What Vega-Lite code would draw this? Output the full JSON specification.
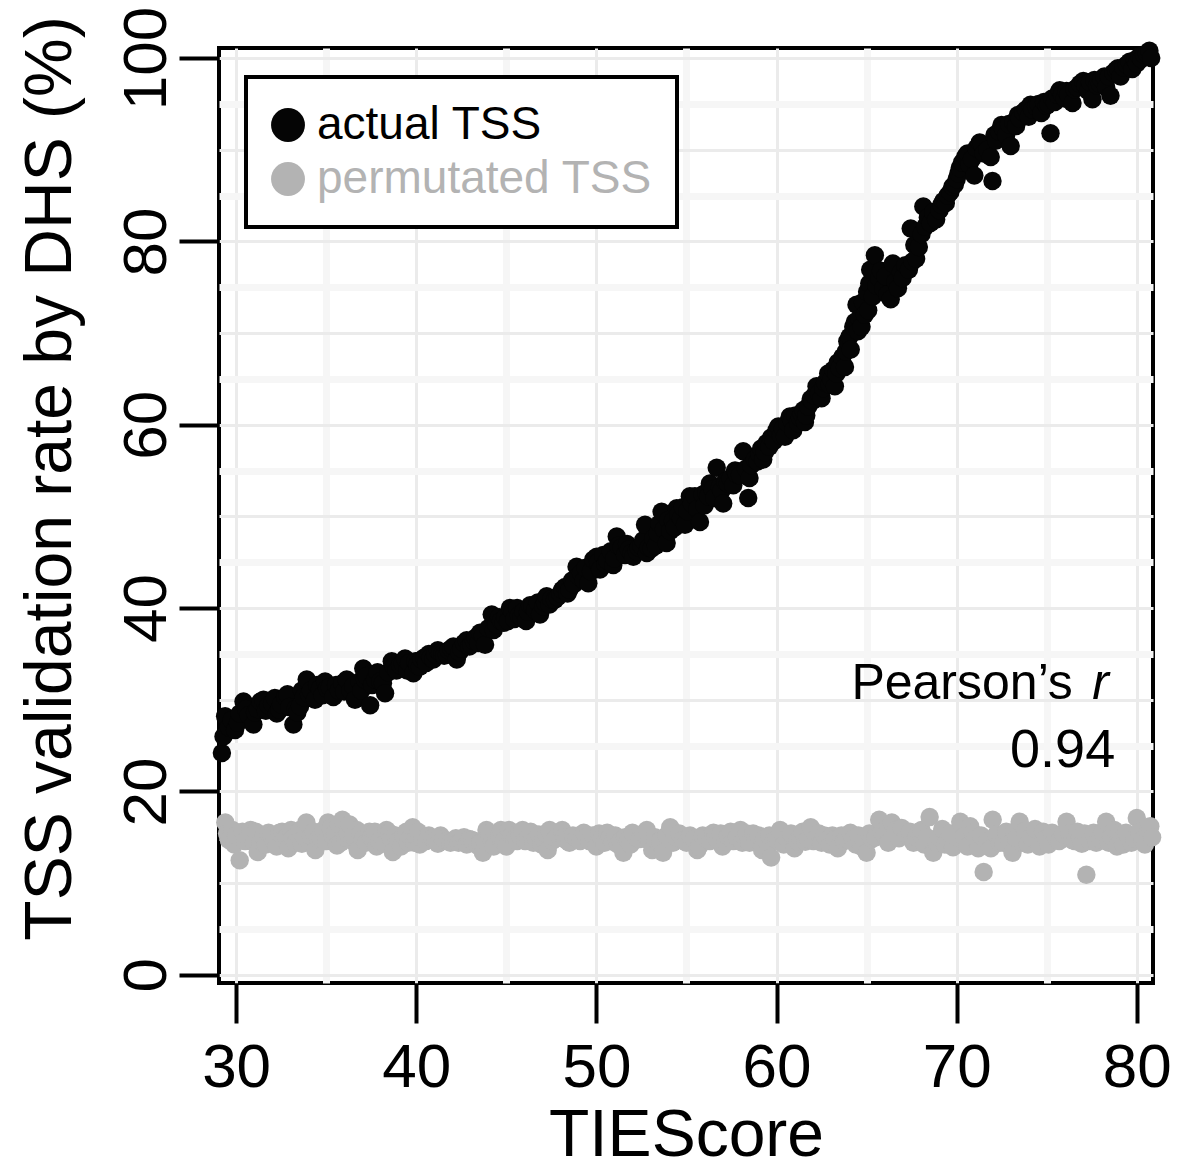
{
  "$schema": "https://vega.github.io/schema/vega-lite/v6.json",
  "width": 934,
  "height": 935,
  "autosize": {"type": "none"},
  "padding": {"left": 219, "top": 48, "right": 34, "bottom": 186},
  "background": "white",
  "config": {"font": "Liberation Sans", "view": {"stroke": "#000000", "strokeWidth": 4}},
  "datasets": {
    "pts": [
      {"TIEScore": 29.21, "rate": 24.2, "series": "actual TSS"},
      {"TIEScore": 29.3, "rate": 26.0, "series": "actual TSS"},
      {"TIEScore": 29.39, "rate": 28.2, "series": "actual TSS"},
      {"TIEScore": 29.6, "rate": 27.0, "series": "actual TSS"},
      {"TIEScore": 29.75, "rate": 27.8, "series": "actual TSS"},
      {"TIEScore": 29.94, "rate": 26.7, "series": "actual TSS"},
      {"TIEScore": 30.1, "rate": 27.5, "series": "actual TSS"},
      {"TIEScore": 30.2, "rate": 28.5, "series": "actual TSS"},
      {"TIEScore": 30.41, "rate": 29.8, "series": "actual TSS"},
      {"TIEScore": 30.55, "rate": 29.0, "series": "actual TSS"},
      {"TIEScore": 30.7, "rate": 28.3, "series": "actual TSS"},
      {"TIEScore": 30.96, "rate": 27.3, "series": "actual TSS"},
      {"TIEScore": 31.05, "rate": 28.6, "series": "actual TSS"},
      {"TIEScore": 31.2, "rate": 29.0, "series": "actual TSS"},
      {"TIEScore": 31.35, "rate": 29.8, "series": "actual TSS"},
      {"TIEScore": 31.52, "rate": 30.0, "series": "actual TSS"},
      {"TIEScore": 31.65, "rate": 28.8, "series": "actual TSS"},
      {"TIEScore": 31.8, "rate": 29.4, "series": "actual TSS"},
      {"TIEScore": 32.0, "rate": 29.6, "series": "actual TSS"},
      {"TIEScore": 32.15, "rate": 30.2, "series": "actual TSS"},
      {"TIEScore": 32.26, "rate": 28.5, "series": "actual TSS"},
      {"TIEScore": 32.4, "rate": 28.9, "series": "actual TSS"},
      {"TIEScore": 32.5, "rate": 29.5, "series": "actual TSS"},
      {"TIEScore": 32.72, "rate": 30.3, "series": "actual TSS"},
      {"TIEScore": 32.85, "rate": 30.6, "series": "actual TSS"},
      {"TIEScore": 32.95, "rate": 29.2, "series": "actual TSS"},
      {"TIEScore": 33.18, "rate": 27.3, "series": "actual TSS"},
      {"TIEScore": 33.3, "rate": 29.0, "series": "actual TSS"},
      {"TIEScore": 33.4, "rate": 28.6, "series": "actual TSS"},
      {"TIEScore": 33.55, "rate": 29.3, "series": "actual TSS"},
      {"TIEScore": 33.65, "rate": 31.0, "series": "actual TSS"},
      {"TIEScore": 33.75, "rate": 30.3, "series": "actual TSS"},
      {"TIEScore": 33.92, "rate": 32.2, "series": "actual TSS"},
      {"TIEScore": 34.05, "rate": 30.6, "series": "actual TSS"},
      {"TIEScore": 34.15, "rate": 31.0, "series": "actual TSS"},
      {"TIEScore": 34.38, "rate": 30.0, "series": "actual TSS"},
      {"TIEScore": 34.5, "rate": 31.6, "series": "actual TSS"},
      {"TIEScore": 34.65, "rate": 31.2, "series": "actual TSS"},
      {"TIEScore": 34.8, "rate": 30.5, "series": "actual TSS"},
      {"TIEScore": 34.94, "rate": 32.0, "series": "actual TSS"},
      {"TIEScore": 35.05, "rate": 31.2, "series": "actual TSS"},
      {"TIEScore": 35.2, "rate": 31.4, "series": "actual TSS"},
      {"TIEScore": 35.4, "rate": 30.3, "series": "actual TSS"},
      {"TIEScore": 35.55, "rate": 31.6, "series": "actual TSS"},
      {"TIEScore": 35.7, "rate": 31.0, "series": "actual TSS"},
      {"TIEScore": 35.9, "rate": 31.8, "series": "actual TSS"},
      {"TIEScore": 36.0, "rate": 30.9, "series": "actual TSS"},
      {"TIEScore": 36.14, "rate": 32.2, "series": "actual TSS"},
      {"TIEScore": 36.35, "rate": 31.0, "series": "actual TSS"},
      {"TIEScore": 36.5, "rate": 31.5, "series": "actual TSS"},
      {"TIEScore": 36.6, "rate": 30.0, "series": "actual TSS"},
      {"TIEScore": 36.85, "rate": 32.0, "series": "actual TSS"},
      {"TIEScore": 36.95, "rate": 31.0, "series": "actual TSS"},
      {"TIEScore": 37.06, "rate": 33.4, "series": "actual TSS"},
      {"TIEScore": 37.15, "rate": 32.2, "series": "actual TSS"},
      {"TIEScore": 37.25, "rate": 32.6, "series": "actual TSS"},
      {"TIEScore": 37.44, "rate": 29.4, "series": "actual TSS"},
      {"TIEScore": 37.55, "rate": 31.6, "series": "actual TSS"},
      {"TIEScore": 37.71, "rate": 32.2, "series": "actual TSS"},
      {"TIEScore": 37.85, "rate": 33.0, "series": "actual TSS"},
      {"TIEScore": 38.0, "rate": 32.0, "series": "actual TSS"},
      {"TIEScore": 38.15, "rate": 31.8, "series": "actual TSS"},
      {"TIEScore": 38.27, "rate": 30.7, "series": "actual TSS"},
      {"TIEScore": 38.45, "rate": 33.0, "series": "actual TSS"},
      {"TIEScore": 38.64, "rate": 34.2, "series": "actual TSS"},
      {"TIEScore": 38.75, "rate": 33.6, "series": "actual TSS"},
      {"TIEScore": 38.9, "rate": 33.2, "series": "actual TSS"},
      {"TIEScore": 39.1, "rate": 33.8, "series": "actual TSS"},
      {"TIEScore": 39.25, "rate": 34.0, "series": "actual TSS"},
      {"TIEScore": 39.38, "rate": 34.5, "series": "actual TSS"},
      {"TIEScore": 39.5, "rate": 33.2, "series": "actual TSS"},
      {"TIEScore": 39.6, "rate": 34.0, "series": "actual TSS"},
      {"TIEScore": 39.84, "rate": 32.9, "series": "actual TSS"},
      {"TIEScore": 39.95, "rate": 34.2, "series": "actual TSS"},
      {"TIEScore": 40.05, "rate": 33.8, "series": "actual TSS"},
      {"TIEScore": 40.2, "rate": 33.6, "series": "actual TSS"},
      {"TIEScore": 40.3, "rate": 34.4, "series": "actual TSS"},
      {"TIEScore": 40.45, "rate": 34.6, "series": "actual TSS"},
      {"TIEScore": 40.55, "rate": 34.0, "series": "actual TSS"},
      {"TIEScore": 40.7, "rate": 35.0, "series": "actual TSS"},
      {"TIEScore": 40.8, "rate": 34.6, "series": "actual TSS"},
      {"TIEScore": 40.95, "rate": 34.4, "series": "actual TSS"},
      {"TIEScore": 41.05, "rate": 35.0, "series": "actual TSS"},
      {"TIEScore": 41.2, "rate": 35.4, "series": "actual TSS"},
      {"TIEScore": 41.32, "rate": 35.1, "series": "actual TSS"},
      {"TIEScore": 41.45, "rate": 35.0, "series": "actual TSS"},
      {"TIEScore": 41.55, "rate": 34.8, "series": "actual TSS"},
      {"TIEScore": 41.7, "rate": 34.9, "series": "actual TSS"},
      {"TIEScore": 41.8, "rate": 35.4, "series": "actual TSS"},
      {"TIEScore": 41.95, "rate": 35.6, "series": "actual TSS"},
      {"TIEScore": 42.06, "rate": 35.8, "series": "actual TSS"},
      {"TIEScore": 42.25, "rate": 34.4, "series": "actual TSS"},
      {"TIEScore": 42.4, "rate": 35.2, "series": "actual TSS"},
      {"TIEScore": 42.5, "rate": 35.6, "series": "actual TSS"},
      {"TIEScore": 42.65, "rate": 36.2, "series": "actual TSS"},
      {"TIEScore": 42.8, "rate": 36.5, "series": "actual TSS"},
      {"TIEScore": 42.95, "rate": 35.8, "series": "actual TSS"},
      {"TIEScore": 43.05, "rate": 36.0, "series": "actual TSS"},
      {"TIEScore": 43.2, "rate": 36.4, "series": "actual TSS"},
      {"TIEScore": 43.3, "rate": 36.8, "series": "actual TSS"},
      {"TIEScore": 43.45, "rate": 36.2, "series": "actual TSS"},
      {"TIEScore": 43.54, "rate": 37.3, "series": "actual TSS"},
      {"TIEScore": 43.7, "rate": 37.0, "series": "actual TSS"},
      {"TIEScore": 43.82, "rate": 36.0, "series": "actual TSS"},
      {"TIEScore": 44.0, "rate": 37.8, "series": "actual TSS"},
      {"TIEScore": 44.19, "rate": 39.3, "series": "actual TSS"},
      {"TIEScore": 44.3, "rate": 37.6, "series": "actual TSS"},
      {"TIEScore": 44.45, "rate": 38.2, "series": "actual TSS"},
      {"TIEScore": 44.6, "rate": 39.0, "series": "actual TSS"},
      {"TIEScore": 44.7, "rate": 38.6, "series": "actual TSS"},
      {"TIEScore": 44.85, "rate": 38.4, "series": "actual TSS"},
      {"TIEScore": 44.95, "rate": 39.0, "series": "actual TSS"},
      {"TIEScore": 45.1, "rate": 38.6, "series": "actual TSS"},
      {"TIEScore": 45.2, "rate": 40.0, "series": "actual TSS"},
      {"TIEScore": 45.35, "rate": 39.6, "series": "actual TSS"},
      {"TIEScore": 45.45, "rate": 38.8, "series": "actual TSS"},
      {"TIEScore": 45.6, "rate": 40.0, "series": "actual TSS"},
      {"TIEScore": 45.7, "rate": 39.2, "series": "actual TSS"},
      {"TIEScore": 45.85, "rate": 39.0, "series": "actual TSS"},
      {"TIEScore": 45.95, "rate": 39.6, "series": "actual TSS"},
      {"TIEScore": 46.1, "rate": 38.6, "series": "actual TSS"},
      {"TIEScore": 46.2, "rate": 39.6, "series": "actual TSS"},
      {"TIEScore": 46.32, "rate": 40.3, "series": "actual TSS"},
      {"TIEScore": 46.45, "rate": 40.2, "series": "actual TSS"},
      {"TIEScore": 46.6, "rate": 39.8, "series": "actual TSS"},
      {"TIEScore": 46.75, "rate": 40.6, "series": "actual TSS"},
      {"TIEScore": 46.87, "rate": 39.3, "series": "actual TSS"},
      {"TIEScore": 47.05, "rate": 40.2, "series": "actual TSS"},
      {"TIEScore": 47.15, "rate": 40.6, "series": "actual TSS"},
      {"TIEScore": 47.24, "rate": 41.3, "series": "actual TSS"},
      {"TIEScore": 47.4, "rate": 40.4, "series": "actual TSS"},
      {"TIEScore": 47.5, "rate": 41.0, "series": "actual TSS"},
      {"TIEScore": 47.7, "rate": 40.9, "series": "actual TSS"},
      {"TIEScore": 47.85, "rate": 41.2, "series": "actual TSS"},
      {"TIEScore": 48.0, "rate": 41.6, "series": "actual TSS"},
      {"TIEScore": 48.1, "rate": 42.0, "series": "actual TSS"},
      {"TIEScore": 48.26, "rate": 42.3, "series": "actual TSS"},
      {"TIEScore": 48.4, "rate": 41.6, "series": "actual TSS"},
      {"TIEScore": 48.5, "rate": 42.0, "series": "actual TSS"},
      {"TIEScore": 48.65, "rate": 43.0, "series": "actual TSS"},
      {"TIEScore": 48.75, "rate": 42.6, "series": "actual TSS"},
      {"TIEScore": 48.9, "rate": 44.5, "series": "actual TSS"},
      {"TIEScore": 49.0, "rate": 43.5, "series": "actual TSS"},
      {"TIEScore": 49.15, "rate": 43.8, "series": "actual TSS"},
      {"TIEScore": 49.3, "rate": 43.0, "series": "actual TSS"},
      {"TIEScore": 49.4, "rate": 44.4, "series": "actual TSS"},
      {"TIEScore": 49.55, "rate": 42.7, "series": "actual TSS"},
      {"TIEScore": 49.7, "rate": 44.0, "series": "actual TSS"},
      {"TIEScore": 49.83, "rate": 45.3, "series": "actual TSS"},
      {"TIEScore": 50.02, "rate": 45.6, "series": "actual TSS"},
      {"TIEScore": 50.1, "rate": 45.0, "series": "actual TSS"},
      {"TIEScore": 50.2, "rate": 44.2, "series": "actual TSS"},
      {"TIEScore": 50.38, "rate": 45.8, "series": "actual TSS"},
      {"TIEScore": 50.5, "rate": 44.8, "series": "actual TSS"},
      {"TIEScore": 50.6, "rate": 45.2, "series": "actual TSS"},
      {"TIEScore": 50.8, "rate": 46.2, "series": "actual TSS"},
      {"TIEScore": 50.94, "rate": 44.7, "series": "actual TSS"},
      {"TIEScore": 51.0, "rate": 45.4, "series": "actual TSS"},
      {"TIEScore": 51.13, "rate": 47.8, "series": "actual TSS"},
      {"TIEScore": 51.22, "rate": 46.8, "series": "actual TSS"},
      {"TIEScore": 51.4, "rate": 46.6, "series": "actual TSS"},
      {"TIEScore": 51.59, "rate": 45.8, "series": "actual TSS"},
      {"TIEScore": 51.7, "rate": 47.0, "series": "actual TSS"},
      {"TIEScore": 51.8, "rate": 46.4, "series": "actual TSS"},
      {"TIEScore": 51.95, "rate": 46.0, "series": "actual TSS"},
      {"TIEScore": 52.05, "rate": 45.6, "series": "actual TSS"},
      {"TIEScore": 52.24, "rate": 46.2, "series": "actual TSS"},
      {"TIEScore": 52.35, "rate": 46.6, "series": "actual TSS"},
      {"TIEScore": 52.5, "rate": 46.8, "series": "actual TSS"},
      {"TIEScore": 52.6, "rate": 47.4, "series": "actual TSS"},
      {"TIEScore": 52.7, "rate": 49.1, "series": "actual TSS"},
      {"TIEScore": 52.8, "rate": 46.0, "series": "actual TSS"},
      {"TIEScore": 52.9, "rate": 46.6, "series": "actual TSS"},
      {"TIEScore": 53.07, "rate": 46.5, "series": "actual TSS"},
      {"TIEScore": 53.16, "rate": 47.6, "series": "actual TSS"},
      {"TIEScore": 53.3, "rate": 46.8, "series": "actual TSS"},
      {"TIEScore": 53.4, "rate": 48.2, "series": "actual TSS"},
      {"TIEScore": 53.5, "rate": 49.2, "series": "actual TSS"},
      {"TIEScore": 53.62, "rate": 50.5, "series": "actual TSS"},
      {"TIEScore": 53.75, "rate": 48.6, "series": "actual TSS"},
      {"TIEScore": 53.9, "rate": 47.1, "series": "actual TSS"},
      {"TIEScore": 54.0, "rate": 49.6, "series": "actual TSS"},
      {"TIEScore": 54.1, "rate": 48.4, "series": "actual TSS"},
      {"TIEScore": 54.25, "rate": 49.5, "series": "actual TSS"},
      {"TIEScore": 54.35, "rate": 48.8, "series": "actual TSS"},
      {"TIEScore": 54.46, "rate": 50.9, "series": "actual TSS"},
      {"TIEScore": 54.55, "rate": 50.2, "series": "actual TSS"},
      {"TIEScore": 54.7, "rate": 49.8, "series": "actual TSS"},
      {"TIEScore": 54.8, "rate": 51.0, "series": "actual TSS"},
      {"TIEScore": 54.92, "rate": 49.1, "series": "actual TSS"},
      {"TIEScore": 55.05, "rate": 50.6, "series": "actual TSS"},
      {"TIEScore": 55.19, "rate": 52.2, "series": "actual TSS"},
      {"TIEScore": 55.3, "rate": 51.4, "series": "actual TSS"},
      {"TIEScore": 55.47, "rate": 52.2, "series": "actual TSS"},
      {"TIEScore": 55.6, "rate": 50.8, "series": "actual TSS"},
      {"TIEScore": 55.75, "rate": 49.4, "series": "actual TSS"},
      {"TIEScore": 55.9, "rate": 52.4, "series": "actual TSS"},
      {"TIEScore": 56.0, "rate": 51.2, "series": "actual TSS"},
      {"TIEScore": 56.1, "rate": 52.6, "series": "actual TSS"},
      {"TIEScore": 56.21, "rate": 52.2, "series": "actual TSS"},
      {"TIEScore": 56.3, "rate": 53.6, "series": "actual TSS"},
      {"TIEScore": 56.45, "rate": 53.0, "series": "actual TSS"},
      {"TIEScore": 56.55, "rate": 52.0, "series": "actual TSS"},
      {"TIEScore": 56.68, "rate": 55.3, "series": "actual TSS"},
      {"TIEScore": 56.85, "rate": 53.2, "series": "actual TSS"},
      {"TIEScore": 56.95, "rate": 52.8, "series": "actual TSS"},
      {"TIEScore": 57.04, "rate": 51.4, "series": "actual TSS"},
      {"TIEScore": 57.15, "rate": 53.8, "series": "actual TSS"},
      {"TIEScore": 57.3, "rate": 53.6, "series": "actual TSS"},
      {"TIEScore": 57.45, "rate": 54.2, "series": "actual TSS"},
      {"TIEScore": 57.6, "rate": 53.4, "series": "actual TSS"},
      {"TIEScore": 57.7, "rate": 55.0, "series": "actual TSS"},
      {"TIEScore": 57.8, "rate": 54.6, "series": "actual TSS"},
      {"TIEScore": 57.97, "rate": 54.5, "series": "actual TSS"},
      {"TIEScore": 58.15, "rate": 57.1, "series": "actual TSS"},
      {"TIEScore": 58.3, "rate": 55.2, "series": "actual TSS"},
      {"TIEScore": 58.43, "rate": 52.0, "series": "actual TSS"},
      {"TIEScore": 58.5, "rate": 54.2, "series": "actual TSS"},
      {"TIEScore": 58.6, "rate": 55.6, "series": "actual TSS"},
      {"TIEScore": 58.8, "rate": 56.2, "series": "actual TSS"},
      {"TIEScore": 58.95, "rate": 56.0, "series": "actual TSS"},
      {"TIEScore": 59.05, "rate": 56.8, "series": "actual TSS"},
      {"TIEScore": 59.15, "rate": 57.4, "series": "actual TSS"},
      {"TIEScore": 59.26, "rate": 56.2, "series": "actual TSS"},
      {"TIEScore": 59.35, "rate": 57.0, "series": "actual TSS"},
      {"TIEScore": 59.45, "rate": 58.0, "series": "actual TSS"},
      {"TIEScore": 59.6, "rate": 57.6, "series": "actual TSS"},
      {"TIEScore": 59.7, "rate": 58.6, "series": "actual TSS"},
      {"TIEScore": 59.85, "rate": 58.2, "series": "actual TSS"},
      {"TIEScore": 60.0, "rate": 59.4, "series": "actual TSS"},
      {"TIEScore": 60.1, "rate": 59.8, "series": "actual TSS"},
      {"TIEScore": 60.25, "rate": 58.8, "series": "actual TSS"},
      {"TIEScore": 60.35, "rate": 59.6, "series": "actual TSS"},
      {"TIEScore": 60.47, "rate": 58.7, "series": "actual TSS"},
      {"TIEScore": 60.6, "rate": 60.2, "series": "actual TSS"},
      {"TIEScore": 60.74, "rate": 60.9, "series": "actual TSS"},
      {"TIEScore": 60.85, "rate": 60.4, "series": "actual TSS"},
      {"TIEScore": 60.93, "rate": 59.4, "series": "actual TSS"},
      {"TIEScore": 61.05, "rate": 61.0, "series": "actual TSS"},
      {"TIEScore": 61.2, "rate": 60.2, "series": "actual TSS"},
      {"TIEScore": 61.3, "rate": 60.8, "series": "actual TSS"},
      {"TIEScore": 61.4, "rate": 61.2, "series": "actual TSS"},
      {"TIEScore": 61.5, "rate": 61.6, "series": "actual TSS"},
      {"TIEScore": 61.58, "rate": 60.3, "series": "actual TSS"},
      {"TIEScore": 61.65, "rate": 61.0, "series": "actual TSS"},
      {"TIEScore": 61.76, "rate": 62.0, "series": "actual TSS"},
      {"TIEScore": 61.9, "rate": 62.8, "series": "actual TSS"},
      {"TIEScore": 62.0, "rate": 62.6, "series": "actual TSS"},
      {"TIEScore": 62.1, "rate": 63.2, "series": "actual TSS"},
      {"TIEScore": 62.22, "rate": 64.2, "series": "actual TSS"},
      {"TIEScore": 62.35, "rate": 63.4, "series": "actual TSS"},
      {"TIEScore": 62.5, "rate": 62.9, "series": "actual TSS"},
      {"TIEScore": 62.6, "rate": 64.0, "series": "actual TSS"},
      {"TIEScore": 62.7, "rate": 64.6, "series": "actual TSS"},
      {"TIEScore": 62.87, "rate": 65.6, "series": "actual TSS"},
      {"TIEScore": 62.95, "rate": 64.4, "series": "actual TSS"},
      {"TIEScore": 63.05, "rate": 65.0, "series": "actual TSS"},
      {"TIEScore": 63.15, "rate": 66.0, "series": "actual TSS"},
      {"TIEScore": 63.24, "rate": 64.2, "series": "actual TSS"},
      {"TIEScore": 63.33, "rate": 65.6, "series": "actual TSS"},
      {"TIEScore": 63.4, "rate": 66.8, "series": "actual TSS"},
      {"TIEScore": 63.5, "rate": 66.2, "series": "actual TSS"},
      {"TIEScore": 63.65, "rate": 67.4, "series": "actual TSS"},
      {"TIEScore": 63.8, "rate": 66.3, "series": "actual TSS"},
      {"TIEScore": 63.85, "rate": 68.0, "series": "actual TSS"},
      {"TIEScore": 63.93, "rate": 69.1, "series": "actual TSS"},
      {"TIEScore": 64.05, "rate": 69.6, "series": "actual TSS"},
      {"TIEScore": 64.12, "rate": 68.2, "series": "actual TSS"},
      {"TIEScore": 64.26, "rate": 70.7, "series": "actual TSS"},
      {"TIEScore": 64.35, "rate": 71.2, "series": "actual TSS"},
      {"TIEScore": 64.44, "rate": 73.1, "series": "actual TSS"},
      {"TIEScore": 64.52, "rate": 70.2, "series": "actual TSS"},
      {"TIEScore": 64.6, "rate": 71.6, "series": "actual TSS"},
      {"TIEScore": 64.72, "rate": 70.7, "series": "actual TSS"},
      {"TIEScore": 64.8, "rate": 73.4, "series": "actual TSS"},
      {"TIEScore": 64.9, "rate": 72.0, "series": "actual TSS"},
      {"TIEScore": 65.03, "rate": 74.5, "series": "actual TSS"},
      {"TIEScore": 65.09, "rate": 72.5, "series": "actual TSS"},
      {"TIEScore": 65.15, "rate": 75.4, "series": "actual TSS"},
      {"TIEScore": 65.2, "rate": 76.9, "series": "actual TSS"},
      {"TIEScore": 65.35, "rate": 74.0, "series": "actual TSS"},
      {"TIEScore": 65.46, "rate": 78.5, "series": "actual TSS"},
      {"TIEScore": 65.55, "rate": 75.2, "series": "actual TSS"},
      {"TIEScore": 65.7, "rate": 76.0, "series": "actual TSS"},
      {"TIEScore": 65.8, "rate": 76.8, "series": "actual TSS"},
      {"TIEScore": 65.93, "rate": 74.9, "series": "actual TSS"},
      {"TIEScore": 66.05, "rate": 76.2, "series": "actual TSS"},
      {"TIEScore": 66.15, "rate": 74.2, "series": "actual TSS"},
      {"TIEScore": 66.34, "rate": 73.7, "series": "actual TSS"},
      {"TIEScore": 66.46, "rate": 77.6, "series": "actual TSS"},
      {"TIEScore": 66.6, "rate": 75.6, "series": "actual TSS"},
      {"TIEScore": 66.74, "rate": 74.9, "series": "actual TSS"},
      {"TIEScore": 66.9, "rate": 76.6, "series": "actual TSS"},
      {"TIEScore": 67.0, "rate": 76.0, "series": "actual TSS"},
      {"TIEScore": 67.15, "rate": 77.4, "series": "actual TSS"},
      {"TIEScore": 67.35, "rate": 76.9, "series": "actual TSS"},
      {"TIEScore": 67.45, "rate": 81.4, "series": "actual TSS"},
      {"TIEScore": 67.55, "rate": 77.8, "series": "actual TSS"},
      {"TIEScore": 67.65, "rate": 79.6, "series": "actual TSS"},
      {"TIEScore": 67.75, "rate": 78.1, "series": "actual TSS"},
      {"TIEScore": 67.9, "rate": 79.4, "series": "actual TSS"},
      {"TIEScore": 68.05, "rate": 80.8, "series": "actual TSS"},
      {"TIEScore": 68.15, "rate": 83.8, "series": "actual TSS"},
      {"TIEScore": 68.25, "rate": 81.6, "series": "actual TSS"},
      {"TIEScore": 68.4, "rate": 82.6, "series": "actual TSS"},
      {"TIEScore": 68.55, "rate": 82.0, "series": "actual TSS"},
      {"TIEScore": 68.7, "rate": 83.2, "series": "actual TSS"},
      {"TIEScore": 68.86, "rate": 82.4, "series": "actual TSS"},
      {"TIEScore": 69.05, "rate": 83.4, "series": "actual TSS"},
      {"TIEScore": 69.15, "rate": 84.0, "series": "actual TSS"},
      {"TIEScore": 69.26, "rate": 84.4, "series": "actual TSS"},
      {"TIEScore": 69.4, "rate": 84.2, "series": "actual TSS"},
      {"TIEScore": 69.5, "rate": 85.0, "series": "actual TSS"},
      {"TIEScore": 69.65, "rate": 85.4, "series": "actual TSS"},
      {"TIEScore": 69.77, "rate": 86.0, "series": "actual TSS"},
      {"TIEScore": 69.9, "rate": 86.2, "series": "actual TSS"},
      {"TIEScore": 70.0, "rate": 86.8, "series": "actual TSS"},
      {"TIEScore": 70.1, "rate": 87.4, "series": "actual TSS"},
      {"TIEScore": 70.17, "rate": 88.0, "series": "actual TSS"},
      {"TIEScore": 70.3, "rate": 88.6, "series": "actual TSS"},
      {"TIEScore": 70.47, "rate": 89.2, "series": "actual TSS"},
      {"TIEScore": 70.6, "rate": 89.6, "series": "actual TSS"},
      {"TIEScore": 70.7, "rate": 88.4, "series": "actual TSS"},
      {"TIEScore": 70.85, "rate": 89.0, "series": "actual TSS"},
      {"TIEScore": 70.98, "rate": 87.2, "series": "actual TSS"},
      {"TIEScore": 71.1, "rate": 90.2, "series": "actual TSS"},
      {"TIEScore": 71.28, "rate": 90.8, "series": "actual TSS"},
      {"TIEScore": 71.4, "rate": 90.6, "series": "actual TSS"},
      {"TIEScore": 71.5, "rate": 89.6, "series": "actual TSS"},
      {"TIEScore": 71.7, "rate": 90.0, "series": "actual TSS"},
      {"TIEScore": 71.89, "rate": 89.2, "series": "actual TSS"},
      {"TIEScore": 71.99, "rate": 86.6, "series": "actual TSS"},
      {"TIEScore": 72.1, "rate": 91.6, "series": "actual TSS"},
      {"TIEScore": 72.2, "rate": 91.0, "series": "actual TSS"},
      {"TIEScore": 72.35, "rate": 92.0, "series": "actual TSS"},
      {"TIEScore": 72.49, "rate": 92.7, "series": "actual TSS"},
      {"TIEScore": 72.6, "rate": 92.2, "series": "actual TSS"},
      {"TIEScore": 72.75, "rate": 91.6, "series": "actual TSS"},
      {"TIEScore": 72.9, "rate": 92.8, "series": "actual TSS"},
      {"TIEScore": 73.0, "rate": 90.4, "series": "actual TSS"},
      {"TIEScore": 73.15, "rate": 93.0, "series": "actual TSS"},
      {"TIEScore": 73.3, "rate": 92.6, "series": "actual TSS"},
      {"TIEScore": 73.4, "rate": 93.8, "series": "actual TSS"},
      {"TIEScore": 73.5, "rate": 93.4, "series": "actual TSS"},
      {"TIEScore": 73.7, "rate": 94.1, "series": "actual TSS"},
      {"TIEScore": 73.85, "rate": 94.4, "series": "actual TSS"},
      {"TIEScore": 74.0, "rate": 93.6, "series": "actual TSS"},
      {"TIEScore": 74.1, "rate": 94.9, "series": "actual TSS"},
      {"TIEScore": 74.2, "rate": 94.4, "series": "actual TSS"},
      {"TIEScore": 74.41, "rate": 94.7, "series": "actual TSS"},
      {"TIEScore": 74.55, "rate": 95.0, "series": "actual TSS"},
      {"TIEScore": 74.7, "rate": 94.0, "series": "actual TSS"},
      {"TIEScore": 74.85, "rate": 95.2, "series": "actual TSS"},
      {"TIEScore": 75.0, "rate": 94.8, "series": "actual TSS"},
      {"TIEScore": 75.1, "rate": 95.0, "series": "actual TSS"},
      {"TIEScore": 75.21, "rate": 91.8, "series": "actual TSS"},
      {"TIEScore": 75.3, "rate": 95.6, "series": "actual TSS"},
      {"TIEScore": 75.45, "rate": 95.2, "series": "actual TSS"},
      {"TIEScore": 75.6, "rate": 96.0, "series": "actual TSS"},
      {"TIEScore": 75.72, "rate": 96.5, "series": "actual TSS"},
      {"TIEScore": 75.85, "rate": 96.0, "series": "actual TSS"},
      {"TIEScore": 76.0, "rate": 95.6, "series": "actual TSS"},
      {"TIEScore": 76.1, "rate": 96.4, "series": "actual TSS"},
      {"TIEScore": 76.2, "rate": 96.0, "series": "actual TSS"},
      {"TIEScore": 76.43, "rate": 95.1, "series": "actual TSS"},
      {"TIEScore": 76.55, "rate": 96.6, "series": "actual TSS"},
      {"TIEScore": 76.7, "rate": 96.8, "series": "actual TSS"},
      {"TIEScore": 76.85, "rate": 97.2, "series": "actual TSS"},
      {"TIEScore": 77.03, "rate": 97.5, "series": "actual TSS"},
      {"TIEScore": 77.15, "rate": 97.0, "series": "actual TSS"},
      {"TIEScore": 77.3, "rate": 96.4, "series": "actual TSS"},
      {"TIEScore": 77.4, "rate": 97.4, "series": "actual TSS"},
      {"TIEScore": 77.54, "rate": 95.5, "series": "actual TSS"},
      {"TIEScore": 77.65, "rate": 97.6, "series": "actual TSS"},
      {"TIEScore": 77.8, "rate": 97.0, "series": "actual TSS"},
      {"TIEScore": 77.95, "rate": 97.2, "series": "actual TSS"},
      {"TIEScore": 78.04, "rate": 97.7, "series": "actual TSS"},
      {"TIEScore": 78.2, "rate": 98.0, "series": "actual TSS"},
      {"TIEScore": 78.3, "rate": 96.8, "series": "actual TSS"},
      {"TIEScore": 78.45, "rate": 98.0, "series": "actual TSS"},
      {"TIEScore": 78.54, "rate": 95.9, "series": "actual TSS"},
      {"TIEScore": 78.7, "rate": 98.4, "series": "actual TSS"},
      {"TIEScore": 78.85, "rate": 98.7, "series": "actual TSS"},
      {"TIEScore": 78.95, "rate": 98.9, "series": "actual TSS"},
      {"TIEScore": 79.1, "rate": 98.0, "series": "actual TSS"},
      {"TIEScore": 79.25, "rate": 99.0, "series": "actual TSS"},
      {"TIEScore": 79.45, "rate": 99.3, "series": "actual TSS"},
      {"TIEScore": 79.6, "rate": 99.6, "series": "actual TSS"},
      {"TIEScore": 79.75, "rate": 98.8, "series": "actual TSS"},
      {"TIEScore": 79.9, "rate": 99.8, "series": "actual TSS"},
      {"TIEScore": 80.0, "rate": 99.4, "series": "actual TSS"},
      {"TIEScore": 80.15, "rate": 100.2, "series": "actual TSS"},
      {"TIEScore": 80.26, "rate": 99.9, "series": "actual TSS"},
      {"TIEScore": 80.4, "rate": 100.4, "series": "actual TSS"},
      {"TIEScore": 80.56, "rate": 100.5, "series": "actual TSS"},
      {"TIEScore": 80.7, "rate": 100.8, "series": "actual TSS"},
      {"TIEScore": 80.8, "rate": 100.0, "series": "actual TSS"},
      {"TIEScore": 29.4, "rate": 16.6, "series": "permutated TSS"},
      {"TIEScore": 29.5, "rate": 15.4, "series": "permutated TSS"},
      {"TIEScore": 29.6, "rate": 14.7, "series": "permutated TSS"},
      {"TIEScore": 29.8, "rate": 15.8, "series": "permutated TSS"},
      {"TIEScore": 29.9, "rate": 14.2, "series": "permutated TSS"},
      {"TIEScore": 30.0, "rate": 15.2, "series": "permutated TSS"},
      {"TIEScore": 30.2, "rate": 12.5, "series": "permutated TSS"},
      {"TIEScore": 30.35, "rate": 15.6, "series": "permutated TSS"},
      {"TIEScore": 30.5, "rate": 14.6, "series": "permutated TSS"},
      {"TIEScore": 30.65, "rate": 15.0, "series": "permutated TSS"},
      {"TIEScore": 30.8, "rate": 15.8, "series": "permutated TSS"},
      {"TIEScore": 31.0, "rate": 14.4, "series": "permutated TSS"},
      {"TIEScore": 31.1, "rate": 15.6, "series": "permutated TSS"},
      {"TIEScore": 31.2, "rate": 13.4, "series": "permutated TSS"},
      {"TIEScore": 31.35, "rate": 14.6, "series": "permutated TSS"},
      {"TIEScore": 31.5, "rate": 15.0, "series": "permutated TSS"},
      {"TIEScore": 31.65, "rate": 14.2, "series": "permutated TSS"},
      {"TIEScore": 31.8, "rate": 15.5, "series": "permutated TSS"},
      {"TIEScore": 31.95, "rate": 15.2, "series": "permutated TSS"},
      {"TIEScore": 32.1, "rate": 14.6, "series": "permutated TSS"},
      {"TIEScore": 32.25, "rate": 14.0, "series": "permutated TSS"},
      {"TIEScore": 32.4, "rate": 15.5, "series": "permutated TSS"},
      {"TIEScore": 32.55, "rate": 15.6, "series": "permutated TSS"},
      {"TIEScore": 32.65, "rate": 14.8, "series": "permutated TSS"},
      {"TIEScore": 32.8, "rate": 15.0, "series": "permutated TSS"},
      {"TIEScore": 32.9, "rate": 13.8, "series": "permutated TSS"},
      {"TIEScore": 33.05, "rate": 15.8, "series": "permutated TSS"},
      {"TIEScore": 33.15, "rate": 14.9, "series": "permutated TSS"},
      {"TIEScore": 33.3, "rate": 14.4, "series": "permutated TSS"},
      {"TIEScore": 33.4, "rate": 15.3, "series": "permutated TSS"},
      {"TIEScore": 33.55, "rate": 15.8, "series": "permutated TSS"},
      {"TIEScore": 33.65, "rate": 14.3, "series": "permutated TSS"},
      {"TIEScore": 33.8, "rate": 15.0, "series": "permutated TSS"},
      {"TIEScore": 33.9, "rate": 16.6, "series": "permutated TSS"},
      {"TIEScore": 34.05, "rate": 14.4, "series": "permutated TSS"},
      {"TIEScore": 34.15, "rate": 15.1, "series": "permutated TSS"},
      {"TIEScore": 34.3, "rate": 15.6, "series": "permutated TSS"},
      {"TIEScore": 34.4, "rate": 13.6, "series": "permutated TSS"},
      {"TIEScore": 34.55, "rate": 14.8, "series": "permutated TSS"},
      {"TIEScore": 34.7, "rate": 14.9, "series": "permutated TSS"},
      {"TIEScore": 34.85, "rate": 15.8, "series": "permutated TSS"},
      {"TIEScore": 35.0, "rate": 14.6, "series": "permutated TSS"},
      {"TIEScore": 35.1, "rate": 16.6, "series": "permutated TSS"},
      {"TIEScore": 35.25, "rate": 16.0, "series": "permutated TSS"},
      {"TIEScore": 35.35, "rate": 15.2, "series": "permutated TSS"},
      {"TIEScore": 35.5, "rate": 15.4, "series": "permutated TSS"},
      {"TIEScore": 35.6, "rate": 14.1, "series": "permutated TSS"},
      {"TIEScore": 35.7, "rate": 16.4, "series": "permutated TSS"},
      {"TIEScore": 35.8, "rate": 14.4, "series": "permutated TSS"},
      {"TIEScore": 35.9, "rate": 16.9, "series": "permutated TSS"},
      {"TIEScore": 36.05, "rate": 15.0, "series": "permutated TSS"},
      {"TIEScore": 36.2, "rate": 15.4, "series": "permutated TSS"},
      {"TIEScore": 36.3, "rate": 16.4, "series": "permutated TSS"},
      {"TIEScore": 36.45, "rate": 14.6, "series": "permutated TSS"},
      {"TIEScore": 36.6, "rate": 14.8, "series": "permutated TSS"},
      {"TIEScore": 36.7, "rate": 15.8, "series": "permutated TSS"},
      {"TIEScore": 36.75, "rate": 13.6, "series": "permutated TSS"},
      {"TIEScore": 36.9, "rate": 15.4, "series": "permutated TSS"},
      {"TIEScore": 37.05, "rate": 14.9, "series": "permutated TSS"},
      {"TIEScore": 37.2, "rate": 14.4, "series": "permutated TSS"},
      {"TIEScore": 37.4, "rate": 15.6, "series": "permutated TSS"},
      {"TIEScore": 37.5, "rate": 15.0, "series": "permutated TSS"},
      {"TIEScore": 37.6, "rate": 14.7, "series": "permutated TSS"},
      {"TIEScore": 37.7, "rate": 15.6, "series": "permutated TSS"},
      {"TIEScore": 37.8, "rate": 14.0, "series": "permutated TSS"},
      {"TIEScore": 37.95, "rate": 14.6, "series": "permutated TSS"},
      {"TIEScore": 38.1, "rate": 15.0, "series": "permutated TSS"},
      {"TIEScore": 38.25, "rate": 14.3, "series": "permutated TSS"},
      {"TIEScore": 38.35, "rate": 15.8, "series": "permutated TSS"},
      {"TIEScore": 38.5, "rate": 15.5, "series": "permutated TSS"},
      {"TIEScore": 38.6, "rate": 14.8, "series": "permutated TSS"},
      {"TIEScore": 38.7, "rate": 13.4, "series": "permutated TSS"},
      {"TIEScore": 38.85, "rate": 15.2, "series": "permutated TSS"},
      {"TIEScore": 39.0, "rate": 14.6, "series": "permutated TSS"},
      {"TIEScore": 39.15, "rate": 14.0, "series": "permutated TSS"},
      {"TIEScore": 39.3, "rate": 15.2, "series": "permutated TSS"},
      {"TIEScore": 39.45, "rate": 15.6, "series": "permutated TSS"},
      {"TIEScore": 39.55, "rate": 14.4, "series": "permutated TSS"},
      {"TIEScore": 39.7, "rate": 15.0, "series": "permutated TSS"},
      {"TIEScore": 39.8, "rate": 16.1, "series": "permutated TSS"},
      {"TIEScore": 39.9, "rate": 14.4, "series": "permutated TSS"},
      {"TIEScore": 40.0, "rate": 15.0, "series": "permutated TSS"},
      {"TIEScore": 40.1, "rate": 15.6, "series": "permutated TSS"},
      {"TIEScore": 40.2, "rate": 14.2, "series": "permutated TSS"},
      {"TIEScore": 40.35, "rate": 14.8, "series": "permutated TSS"},
      {"TIEScore": 40.55, "rate": 14.6, "series": "permutated TSS"},
      {"TIEScore": 40.7, "rate": 15.2, "series": "permutated TSS"},
      {"TIEScore": 40.9, "rate": 14.9, "series": "permutated TSS"},
      {"TIEScore": 41.05, "rate": 14.6, "series": "permutated TSS"},
      {"TIEScore": 41.2, "rate": 14.3, "series": "permutated TSS"},
      {"TIEScore": 41.35, "rate": 15.2, "series": "permutated TSS"},
      {"TIEScore": 41.5, "rate": 14.8, "series": "permutated TSS"},
      {"TIEScore": 41.7, "rate": 14.6, "series": "permutated TSS"},
      {"TIEScore": 41.9, "rate": 14.4, "series": "permutated TSS"},
      {"TIEScore": 42.05, "rate": 14.6, "series": "permutated TSS"},
      {"TIEScore": 42.2, "rate": 14.9, "series": "permutated TSS"},
      {"TIEScore": 42.35, "rate": 14.4, "series": "permutated TSS"},
      {"TIEScore": 42.5, "rate": 14.6, "series": "permutated TSS"},
      {"TIEScore": 42.65, "rate": 15.0, "series": "permutated TSS"},
      {"TIEScore": 42.8, "rate": 14.2, "series": "permutated TSS"},
      {"TIEScore": 42.95, "rate": 14.8, "series": "permutated TSS"},
      {"TIEScore": 43.1, "rate": 14.7, "series": "permutated TSS"},
      {"TIEScore": 43.25, "rate": 14.6, "series": "permutated TSS"},
      {"TIEScore": 43.4, "rate": 14.1, "series": "permutated TSS"},
      {"TIEScore": 43.55, "rate": 14.4, "series": "permutated TSS"},
      {"TIEScore": 43.7, "rate": 13.3, "series": "permutated TSS"},
      {"TIEScore": 43.8, "rate": 14.6, "series": "permutated TSS"},
      {"TIEScore": 43.9, "rate": 15.8, "series": "permutated TSS"},
      {"TIEScore": 44.05, "rate": 15.4, "series": "permutated TSS"},
      {"TIEScore": 44.2, "rate": 14.6, "series": "permutated TSS"},
      {"TIEScore": 44.3, "rate": 14.0, "series": "permutated TSS"},
      {"TIEScore": 44.45, "rate": 15.1, "series": "permutated TSS"},
      {"TIEScore": 44.6, "rate": 15.2, "series": "permutated TSS"},
      {"TIEScore": 44.7, "rate": 15.8, "series": "permutated TSS"},
      {"TIEScore": 44.85, "rate": 14.6, "series": "permutated TSS"},
      {"TIEScore": 45.0, "rate": 14.0, "series": "permutated TSS"},
      {"TIEScore": 45.15, "rate": 15.8, "series": "permutated TSS"},
      {"TIEScore": 45.3, "rate": 15.2, "series": "permutated TSS"},
      {"TIEScore": 45.45, "rate": 14.8, "series": "permutated TSS"},
      {"TIEScore": 45.6, "rate": 14.6, "series": "permutated TSS"},
      {"TIEScore": 45.75, "rate": 15.2, "series": "permutated TSS"},
      {"TIEScore": 45.9, "rate": 15.8, "series": "permutated TSS"},
      {"TIEScore": 46.05, "rate": 14.6, "series": "permutated TSS"},
      {"TIEScore": 46.2, "rate": 14.9, "series": "permutated TSS"},
      {"TIEScore": 46.35, "rate": 15.6, "series": "permutated TSS"},
      {"TIEScore": 46.5, "rate": 14.4, "series": "permutated TSS"},
      {"TIEScore": 46.65, "rate": 14.8, "series": "permutated TSS"},
      {"TIEScore": 46.8, "rate": 15.3, "series": "permutated TSS"},
      {"TIEScore": 46.95, "rate": 14.2, "series": "permutated TSS"},
      {"TIEScore": 47.05, "rate": 14.8, "series": "permutated TSS"},
      {"TIEScore": 47.2, "rate": 15.4, "series": "permutated TSS"},
      {"TIEScore": 47.3, "rate": 13.6, "series": "permutated TSS"},
      {"TIEScore": 47.4, "rate": 15.8, "series": "permutated TSS"},
      {"TIEScore": 47.55, "rate": 14.6, "series": "permutated TSS"},
      {"TIEScore": 47.75, "rate": 14.9, "series": "permutated TSS"},
      {"TIEScore": 47.9, "rate": 15.2, "series": "permutated TSS"},
      {"TIEScore": 48.1, "rate": 15.8, "series": "permutated TSS"},
      {"TIEScore": 48.2, "rate": 15.0, "series": "permutated TSS"},
      {"TIEScore": 48.3, "rate": 14.7, "series": "permutated TSS"},
      {"TIEScore": 48.5, "rate": 14.4, "series": "permutated TSS"},
      {"TIEScore": 48.7, "rate": 15.2, "series": "permutated TSS"},
      {"TIEScore": 48.9, "rate": 14.9, "series": "permutated TSS"},
      {"TIEScore": 49.1, "rate": 14.6, "series": "permutated TSS"},
      {"TIEScore": 49.3, "rate": 15.5, "series": "permutated TSS"},
      {"TIEScore": 49.45, "rate": 15.0, "series": "permutated TSS"},
      {"TIEScore": 49.6, "rate": 14.6, "series": "permutated TSS"},
      {"TIEScore": 49.8, "rate": 15.2, "series": "permutated TSS"},
      {"TIEScore": 50.0, "rate": 14.0, "series": "permutated TSS"},
      {"TIEScore": 50.15, "rate": 15.4, "series": "permutated TSS"},
      {"TIEScore": 50.3, "rate": 14.9, "series": "permutated TSS"},
      {"TIEScore": 50.45, "rate": 14.4, "series": "permutated TSS"},
      {"TIEScore": 50.6, "rate": 15.5, "series": "permutated TSS"},
      {"TIEScore": 50.75, "rate": 15.0, "series": "permutated TSS"},
      {"TIEScore": 50.9, "rate": 14.5, "series": "permutated TSS"},
      {"TIEScore": 51.05, "rate": 15.2, "series": "permutated TSS"},
      {"TIEScore": 51.2, "rate": 14.2, "series": "permutated TSS"},
      {"TIEScore": 51.35, "rate": 14.6, "series": "permutated TSS"},
      {"TIEScore": 51.5, "rate": 13.3, "series": "permutated TSS"},
      {"TIEScore": 51.6, "rate": 15.0, "series": "permutated TSS"},
      {"TIEScore": 51.75, "rate": 14.7, "series": "permutated TSS"},
      {"TIEScore": 51.9, "rate": 14.2, "series": "permutated TSS"},
      {"TIEScore": 52.0, "rate": 15.5, "series": "permutated TSS"},
      {"TIEScore": 52.2, "rate": 15.0, "series": "permutated TSS"},
      {"TIEScore": 52.4, "rate": 14.8, "series": "permutated TSS"},
      {"TIEScore": 52.6, "rate": 15.4, "series": "permutated TSS"},
      {"TIEScore": 52.8, "rate": 15.8, "series": "permutated TSS"},
      {"TIEScore": 52.95, "rate": 14.6, "series": "permutated TSS"},
      {"TIEScore": 53.1, "rate": 13.6, "series": "permutated TSS"},
      {"TIEScore": 53.25, "rate": 15.0, "series": "permutated TSS"},
      {"TIEScore": 53.4, "rate": 14.5, "series": "permutated TSS"},
      {"TIEScore": 53.55, "rate": 14.6, "series": "permutated TSS"},
      {"TIEScore": 53.7, "rate": 13.3, "series": "permutated TSS"},
      {"TIEScore": 53.9, "rate": 15.2, "series": "permutated TSS"},
      {"TIEScore": 54.1, "rate": 16.1, "series": "permutated TSS"},
      {"TIEScore": 54.25, "rate": 14.4, "series": "permutated TSS"},
      {"TIEScore": 54.4, "rate": 15.0, "series": "permutated TSS"},
      {"TIEScore": 54.6, "rate": 15.4, "series": "permutated TSS"},
      {"TIEScore": 54.8, "rate": 14.7, "series": "permutated TSS"},
      {"TIEScore": 55.0, "rate": 14.4, "series": "permutated TSS"},
      {"TIEScore": 55.2, "rate": 15.2, "series": "permutated TSS"},
      {"TIEScore": 55.4, "rate": 14.8, "series": "permutated TSS"},
      {"TIEScore": 55.6, "rate": 13.6, "series": "permutated TSS"},
      {"TIEScore": 55.7, "rate": 14.0, "series": "permutated TSS"},
      {"TIEScore": 55.9, "rate": 15.2, "series": "permutated TSS"},
      {"TIEScore": 56.1, "rate": 14.8, "series": "permutated TSS"},
      {"TIEScore": 56.3, "rate": 14.6, "series": "permutated TSS"},
      {"TIEScore": 56.5, "rate": 15.5, "series": "permutated TSS"},
      {"TIEScore": 56.6, "rate": 15.0, "series": "permutated TSS"},
      {"TIEScore": 56.75, "rate": 14.6, "series": "permutated TSS"},
      {"TIEScore": 56.9, "rate": 15.4, "series": "permutated TSS"},
      {"TIEScore": 57.0, "rate": 14.0, "series": "permutated TSS"},
      {"TIEScore": 57.15, "rate": 14.6, "series": "permutated TSS"},
      {"TIEScore": 57.3, "rate": 15.1, "series": "permutated TSS"},
      {"TIEScore": 57.45, "rate": 15.6, "series": "permutated TSS"},
      {"TIEScore": 57.6, "rate": 14.6, "series": "permutated TSS"},
      {"TIEScore": 57.8, "rate": 15.0, "series": "permutated TSS"},
      {"TIEScore": 58.0, "rate": 15.8, "series": "permutated TSS"},
      {"TIEScore": 58.1, "rate": 14.4, "series": "permutated TSS"},
      {"TIEScore": 58.25, "rate": 14.9, "series": "permutated TSS"},
      {"TIEScore": 58.35, "rate": 15.4, "series": "permutated TSS"},
      {"TIEScore": 58.5, "rate": 14.4, "series": "permutated TSS"},
      {"TIEScore": 58.7, "rate": 15.4, "series": "permutated TSS"},
      {"TIEScore": 58.85, "rate": 14.8, "series": "permutated TSS"},
      {"TIEScore": 59.0, "rate": 15.2, "series": "permutated TSS"},
      {"TIEScore": 59.2, "rate": 13.6, "series": "permutated TSS"},
      {"TIEScore": 59.3, "rate": 14.8, "series": "permutated TSS"},
      {"TIEScore": 59.45, "rate": 14.5, "series": "permutated TSS"},
      {"TIEScore": 59.6, "rate": 15.2, "series": "permutated TSS"},
      {"TIEScore": 59.7, "rate": 12.8, "series": "permutated TSS"},
      {"TIEScore": 59.85, "rate": 14.6, "series": "permutated TSS"},
      {"TIEScore": 60.0, "rate": 14.7, "series": "permutated TSS"},
      {"TIEScore": 60.1, "rate": 15.0, "series": "permutated TSS"},
      {"TIEScore": 60.2, "rate": 15.8, "series": "permutated TSS"},
      {"TIEScore": 60.4, "rate": 14.2, "series": "permutated TSS"},
      {"TIEScore": 60.6, "rate": 14.9, "series": "permutated TSS"},
      {"TIEScore": 60.8, "rate": 15.4, "series": "permutated TSS"},
      {"TIEScore": 61.0, "rate": 13.8, "series": "permutated TSS"},
      {"TIEScore": 61.15, "rate": 14.6, "series": "permutated TSS"},
      {"TIEScore": 61.3, "rate": 15.0, "series": "permutated TSS"},
      {"TIEScore": 61.45, "rate": 15.6, "series": "permutated TSS"},
      {"TIEScore": 61.6, "rate": 14.5, "series": "permutated TSS"},
      {"TIEScore": 61.75, "rate": 14.8, "series": "permutated TSS"},
      {"TIEScore": 61.9, "rate": 16.1, "series": "permutated TSS"},
      {"TIEScore": 62.05, "rate": 14.6, "series": "permutated TSS"},
      {"TIEScore": 62.2, "rate": 15.0, "series": "permutated TSS"},
      {"TIEScore": 62.35, "rate": 15.4, "series": "permutated TSS"},
      {"TIEScore": 62.5, "rate": 14.4, "series": "permutated TSS"},
      {"TIEScore": 62.65, "rate": 15.2, "series": "permutated TSS"},
      {"TIEScore": 62.8, "rate": 14.7, "series": "permutated TSS"},
      {"TIEScore": 62.95, "rate": 14.2, "series": "permutated TSS"},
      {"TIEScore": 63.1, "rate": 15.2, "series": "permutated TSS"},
      {"TIEScore": 63.25, "rate": 14.8, "series": "permutated TSS"},
      {"TIEScore": 63.4, "rate": 13.8, "series": "permutated TSS"},
      {"TIEScore": 63.6, "rate": 15.2, "series": "permutated TSS"},
      {"TIEScore": 63.75, "rate": 14.6, "series": "permutated TSS"},
      {"TIEScore": 63.9, "rate": 14.8, "series": "permutated TSS"},
      {"TIEScore": 64.1, "rate": 15.5, "series": "permutated TSS"},
      {"TIEScore": 64.25, "rate": 14.8, "series": "permutated TSS"},
      {"TIEScore": 64.4, "rate": 14.2, "series": "permutated TSS"},
      {"TIEScore": 64.55, "rate": 15.2, "series": "permutated TSS"},
      {"TIEScore": 64.7, "rate": 14.0, "series": "permutated TSS"},
      {"TIEScore": 64.85, "rate": 14.6, "series": "permutated TSS"},
      {"TIEScore": 65.0, "rate": 13.3, "series": "permutated TSS"},
      {"TIEScore": 65.15, "rate": 15.4, "series": "permutated TSS"},
      {"TIEScore": 65.3, "rate": 14.8, "series": "permutated TSS"},
      {"TIEScore": 65.5, "rate": 15.0, "series": "permutated TSS"},
      {"TIEScore": 65.7, "rate": 16.9, "series": "permutated TSS"},
      {"TIEScore": 65.85, "rate": 15.6, "series": "permutated TSS"},
      {"TIEScore": 66.0, "rate": 15.2, "series": "permutated TSS"},
      {"TIEScore": 66.2, "rate": 14.4, "series": "permutated TSS"},
      {"TIEScore": 66.4, "rate": 16.6, "series": "permutated TSS"},
      {"TIEScore": 66.6, "rate": 15.8, "series": "permutated TSS"},
      {"TIEScore": 66.8, "rate": 14.9, "series": "permutated TSS"},
      {"TIEScore": 66.95, "rate": 16.0, "series": "permutated TSS"},
      {"TIEScore": 67.2, "rate": 15.3, "series": "permutated TSS"},
      {"TIEScore": 67.4, "rate": 15.6, "series": "permutated TSS"},
      {"TIEScore": 67.6, "rate": 14.4, "series": "permutated TSS"},
      {"TIEScore": 67.75, "rate": 15.0, "series": "permutated TSS"},
      {"TIEScore": 67.9, "rate": 15.6, "series": "permutated TSS"},
      {"TIEScore": 68.05, "rate": 15.8, "series": "permutated TSS"},
      {"TIEScore": 68.2, "rate": 14.2, "series": "permutated TSS"},
      {"TIEScore": 68.35, "rate": 15.0, "series": "permutated TSS"},
      {"TIEScore": 68.5, "rate": 17.2, "series": "permutated TSS"},
      {"TIEScore": 68.7, "rate": 13.3, "series": "permutated TSS"},
      {"TIEScore": 68.9, "rate": 14.4, "series": "permutated TSS"},
      {"TIEScore": 69.0, "rate": 15.0, "series": "permutated TSS"},
      {"TIEScore": 69.2, "rate": 15.9, "series": "permutated TSS"},
      {"TIEScore": 69.35, "rate": 14.2, "series": "permutated TSS"},
      {"TIEScore": 69.5, "rate": 14.7, "series": "permutated TSS"},
      {"TIEScore": 69.65, "rate": 15.4, "series": "permutated TSS"},
      {"TIEScore": 69.8, "rate": 13.9, "series": "permutated TSS"},
      {"TIEScore": 70.0, "rate": 15.0, "series": "permutated TSS"},
      {"TIEScore": 70.2, "rate": 16.7, "series": "permutated TSS"},
      {"TIEScore": 70.4, "rate": 15.1, "series": "permutated TSS"},
      {"TIEScore": 70.6, "rate": 14.0, "series": "permutated TSS"},
      {"TIEScore": 70.75, "rate": 16.2, "series": "permutated TSS"},
      {"TIEScore": 70.9, "rate": 15.5, "series": "permutated TSS"},
      {"TIEScore": 71.05, "rate": 14.8, "series": "permutated TSS"},
      {"TIEScore": 71.2, "rate": 13.8, "series": "permutated TSS"},
      {"TIEScore": 71.35, "rate": 15.2, "series": "permutated TSS"},
      {"TIEScore": 71.5, "rate": 11.2, "series": "permutated TSS"},
      {"TIEScore": 71.7, "rate": 14.6, "series": "permutated TSS"},
      {"TIEScore": 71.9, "rate": 13.8, "series": "permutated TSS"},
      {"TIEScore": 72.0, "rate": 16.9, "series": "permutated TSS"},
      {"TIEScore": 72.2, "rate": 15.3, "series": "permutated TSS"},
      {"TIEScore": 72.4, "rate": 14.4, "series": "permutated TSS"},
      {"TIEScore": 72.6, "rate": 14.4, "series": "permutated TSS"},
      {"TIEScore": 72.75, "rate": 15.6, "series": "permutated TSS"},
      {"TIEScore": 72.9, "rate": 14.2, "series": "permutated TSS"},
      {"TIEScore": 73.1, "rate": 13.3, "series": "permutated TSS"},
      {"TIEScore": 73.2, "rate": 15.6, "series": "permutated TSS"},
      {"TIEScore": 73.3, "rate": 14.9, "series": "permutated TSS"},
      {"TIEScore": 73.5, "rate": 16.7, "series": "permutated TSS"},
      {"TIEScore": 73.65, "rate": 14.4, "series": "permutated TSS"},
      {"TIEScore": 73.8, "rate": 15.7, "series": "permutated TSS"},
      {"TIEScore": 73.95, "rate": 14.2, "series": "permutated TSS"},
      {"TIEScore": 74.1, "rate": 15.0, "series": "permutated TSS"},
      {"TIEScore": 74.2, "rate": 15.0, "series": "permutated TSS"},
      {"TIEScore": 74.35, "rate": 15.9, "series": "permutated TSS"},
      {"TIEScore": 74.6, "rate": 14.0, "series": "permutated TSS"},
      {"TIEScore": 74.8, "rate": 15.6, "series": "permutated TSS"},
      {"TIEScore": 74.95, "rate": 14.8, "series": "permutated TSS"},
      {"TIEScore": 75.1, "rate": 14.2, "series": "permutated TSS"},
      {"TIEScore": 75.3, "rate": 15.5, "series": "permutated TSS"},
      {"TIEScore": 75.5, "rate": 15.0, "series": "permutated TSS"},
      {"TIEScore": 75.7, "rate": 14.6, "series": "permutated TSS"},
      {"TIEScore": 75.9, "rate": 15.4, "series": "permutated TSS"},
      {"TIEScore": 76.1, "rate": 16.7, "series": "permutated TSS"},
      {"TIEScore": 76.25, "rate": 15.4, "series": "permutated TSS"},
      {"TIEScore": 76.4, "rate": 14.7, "series": "permutated TSS"},
      {"TIEScore": 76.55, "rate": 14.6, "series": "permutated TSS"},
      {"TIEScore": 76.7, "rate": 15.6, "series": "permutated TSS"},
      {"TIEScore": 76.85, "rate": 15.0, "series": "permutated TSS"},
      {"TIEScore": 76.95, "rate": 14.3, "series": "permutated TSS"},
      {"TIEScore": 77.1, "rate": 15.4, "series": "permutated TSS"},
      {"TIEScore": 77.2, "rate": 10.9, "series": "permutated TSS"},
      {"TIEScore": 77.4, "rate": 14.6, "series": "permutated TSS"},
      {"TIEScore": 77.6, "rate": 15.5, "series": "permutated TSS"},
      {"TIEScore": 77.75, "rate": 14.4, "series": "permutated TSS"},
      {"TIEScore": 77.95, "rate": 14.8, "series": "permutated TSS"},
      {"TIEScore": 78.1, "rate": 15.6, "series": "permutated TSS"},
      {"TIEScore": 78.3, "rate": 16.7, "series": "permutated TSS"},
      {"TIEScore": 78.45, "rate": 14.4, "series": "permutated TSS"},
      {"TIEScore": 78.6, "rate": 15.1, "series": "permutated TSS"},
      {"TIEScore": 78.75, "rate": 15.8, "series": "permutated TSS"},
      {"TIEScore": 78.9, "rate": 14.0, "series": "permutated TSS"},
      {"TIEScore": 79.0, "rate": 15.4, "series": "permutated TSS"},
      {"TIEScore": 79.15, "rate": 14.8, "series": "permutated TSS"},
      {"TIEScore": 79.25, "rate": 14.2, "series": "permutated TSS"},
      {"TIEScore": 79.4, "rate": 15.5, "series": "permutated TSS"},
      {"TIEScore": 79.55, "rate": 15.0, "series": "permutated TSS"},
      {"TIEScore": 79.7, "rate": 14.4, "series": "permutated TSS"},
      {"TIEScore": 79.85, "rate": 14.9, "series": "permutated TSS"},
      {"TIEScore": 80.0, "rate": 17.1, "series": "permutated TSS"},
      {"TIEScore": 80.15, "rate": 15.6, "series": "permutated TSS"},
      {"TIEScore": 80.3, "rate": 14.7, "series": "permutated TSS"},
      {"TIEScore": 80.45, "rate": 14.2, "series": "permutated TSS"},
      {"TIEScore": 80.6, "rate": 15.6, "series": "permutated TSS"},
      {"TIEScore": 80.75, "rate": 16.2, "series": "permutated TSS"},
      {"TIEScore": 80.85, "rate": 15.0, "series": "permutated TSS"}
    ]
  },
  "resolve": {"axis": {"x": "independent", "y": "independent"}},
  "layer": [
    {
      "data": {"values": [{}]},
      "mark": {"type": "text", "text": "Pearson’s", "fontSize": 50, "align": "right", "baseline": "alphabetic", "color": "#000000", "font": "Liberation Sans"},
      "encoding": {
        "x": {"datum": 76.45, "type": "quantitative", "scale": {"domain": [29.05, 80.9], "nice": false, "zero": false},
              "axis": {"orient": "bottom", "values": [35, 45, 55, 65, 75], "grid": true, "gridColor": "#f6f6f6", "gridWidth": 7, "labels": false, "ticks": false, "domain": false, "title": null}},
        "y": {"datum": 30.1, "type": "quantitative", "scale": {"domain": [-0.9, 101.1], "nice": false, "zero": false},
              "axis": {"orient": "left", "values": [5, 15, 25, 35, 45, 55, 65, 75, 85, 95], "grid": true, "gridColor": "#f6f6f6", "gridWidth": 7, "labels": false, "ticks": false, "domain": false, "title": null}}
      }
    },
    {
      "data": {"values": [{}]},
      "mark": {"type": "text", "text": "r", "fontSize": 50, "fontStyle": "italic", "align": "right", "baseline": "alphabetic", "color": "#000000", "font": "Liberation Sans"},
      "encoding": {
        "x": {"datum": 78.45, "type": "quantitative", "scale": {"domain": [29.05, 80.9], "nice": false, "zero": false},
              "axis": {"orient": "bottom", "values": [30, 40, 50, 60, 70, 80], "grid": true, "gridColor": "#ebebeb", "gridWidth": 3, "labels": false, "ticks": false, "domain": false, "title": null}},
        "y": {"datum": 30.1, "type": "quantitative", "scale": {"domain": [-0.9, 101.1], "nice": false, "zero": false},
              "axis": {"orient": "left", "values": [0, 10, 20, 30, 40, 50, 60, 70, 80, 90, 100], "grid": true, "gridColor": "#ebebeb", "gridWidth": 3, "labels": false, "ticks": false, "domain": false, "title": null}}
      }
    },
    {
      "data": {"values": [{}]},
      "mark": {"type": "text", "text": "0.94", "fontSize": 54, "align": "right", "baseline": "alphabetic", "color": "#000000", "font": "Liberation Sans"},
      "encoding": {
        "x": {"datum": 78.8, "type": "quantitative", "scale": {"domain": [29.05, 80.9], "nice": false, "zero": false}, "axis": null},
        "y": {"datum": 22.7, "type": "quantitative", "scale": {"domain": [-0.9, 101.1], "nice": false, "zero": false}, "axis": null}
      }
    },
    {
      "data": {"name": "pts"},
      "mark": {"type": "point", "filled": true, "size": 340, "opacity": 1, "strokeWidth": 0},
      "encoding": {
        "x": {"field": "TIEScore", "type": "quantitative", "scale": {"domain": [29.05, 80.9], "nice": false, "zero": false},
              "axis": {"orient": "bottom", "values": [30, 40, 50, 60, 70, 80], "grid": false, "domain": false, "ticks": true, "tickSize": 40, "tickWidth": 4, "tickColor": "#000000",
                       "labelFontSize": 62, "labelFont": "Liberation Sans", "labelColor": "#000000", "labelBaseline": "alphabetic", "labelPadding": 63, "labelDx": 8, "labelFlush": false,
                       "title": "TIEScore", "titleFontSize": 66, "titleFont": "Liberation Sans", "titleFontWeight": "normal", "titleColor": "#000000", "titleBaseline": "alphabetic", "titleX": 467, "titleY": 172, "titleAlign": "center"}},
        "y": {"field": "rate", "type": "quantitative", "scale": {"domain": [-0.9, 101.1], "nice": false, "zero": false},
              "axis": {"orient": "left", "values": [0, 20, 40, 60, 80, 100], "grid": false, "domain": false, "ticks": true, "tickSize": 40, "tickWidth": 4, "tickColor": "#000000",
                       "labelFontSize": 62, "labelFont": "Liberation Sans", "labelColor": "#000000", "labelAngle": -90, "labelAlign": "center", "labelBaseline": "alphabetic", "labelPadding": 14, "labelFlush": false,
                       "title": "TSS validation rate by DHS (%)", "titleFontSize": 66, "titleFont": "Liberation Sans", "titleFontWeight": "normal", "titleColor": "#000000", "titleAngle": -90, "titleBaseline": "alphabetic", "titleAlign": "center", "titleX": -149, "titleY": 430}},
        "color": {"field": "series", "type": "nominal",
                  "scale": {"domain": ["actual TSS", "permutated TSS"], "range": ["#050505", "#b3b3b3"]},
                  "legend": {"title": null, "orient": "none", "legendX": 27, "legendY": 29, "direction": "vertical", "padding": 25,
                             "fillColor": "#ffffff", "strokeColor": "#000000", "symbolType": "circle", "symbolSize": 1150, "symbolStrokeWidth": 0, "symbolOpacity": 1, "symbolOffset": -6,
                             "labelFontSize": 46, "labelFont": "Liberation Sans", "labelOffset": 6, "labelLimit": 600, "rowPadding": 8,
                             "encode": {"legend": {"update": {"strokeWidth": {"value": 4}}},
                                        "symbols": {"update": {"size": {"value": 1150}}},
                                        "labels": {"update": {"fill": [{"test": "datum.label === 'permutated TSS'", "value": "#b3b3b3"}, {"value": "#000000"}]}}}}}
      }
    }
  ]
}
